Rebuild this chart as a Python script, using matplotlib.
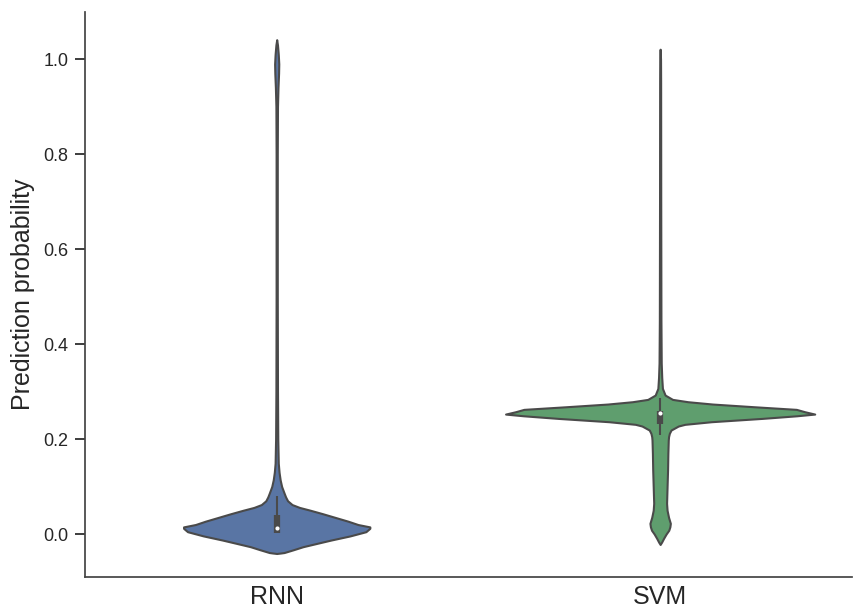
"""Violin plot - RNN vs SVM prediction probability"""
import colorsys
import matplotlib
matplotlib.use('Agg')
import matplotlib.pyplot as plt
import matplotlib.colors as mcolors

plt.rcParams['font.family'] = ['Liberation Sans', 'DejaVu Sans']

# Categories
models = ["RNN", "SVM"]

# Density outline: value -> half width (pixels at 387 px per category)
rnn_vals = [-0.041, -0.040, -0.039, -0.033, -0.0267, -0.020, -0.0126, -0.004, 0.0049,
            0.012, 0.015, 0.020, 0.027, 0.035, 0.043, 0.050, 0.056, 0.062, 0.070,
            0.078, 0.086, 0.100, 0.114, 0.130, 0.149, 0.200, 0.300, 0.500, 0.800,
            0.900, 0.940, 0.970, 0.990, 1.010, 1.030, 1.041]
rnn_width = [0, 4, 7.5, 17, 26.5, 40, 55, 74, 90,
             94, 94, 82, 72, 59, 46, 34, 23, 15.5, 11,
             9, 7.5, 5, 3.5, 2.4, 1.6, 1.1, 0.8, 0.6, 0.6,
             0.8, 1.3, 1.9, 2.1, 1.6, 0.8, 0]

svm_vals = [-0.022, -0.017, -0.009, 0.000, 0.008, 0.015, 0.0225, 0.035, 0.050, 0.0646,
            0.100, 0.135, 0.170, 0.198, 0.205, 0.212, 0.219, 0.2274, 0.231, 0.2365,
            0.2435, 0.249, 0.2526, 0.2575, 0.2625, 0.268, 0.2737, 0.2786, 0.2835,
            0.2926, 0.3067, 0.330, 0.360, 0.450, 0.700, 0.950, 1.000, 1.021]
svm_width = [0, 1.5, 3.5, 6, 8.7, 9.8, 10.3, 8.5, 7, 6.5,
             7, 7.5, 7.8, 8.2, 8.5, 9.3, 11, 18.3, 25, 51.7,
             103, 138, 156, 146, 137.5, 95, 53, 28, 12.5,
             5, 2.3, 1.6, 1.1, 0.8, 0.6, 0.5, 0.4, 0]

# Inner box: whisker low, q1, median, q3, whisker high
rnn_box = [0.0015, 0.0015, 0.012, 0.040, 0.080]
svm_box = [0.208, 0.231, 0.2554, 0.2596, 0.2857]

profiles = [(rnn_vals, rnn_width, rnn_box), (svm_vals, svm_width, svm_box)]
base_colors = ["#4C72B0", "#55A868"]
edge = "#4a4a4a"
px_per_cat = 387.0


def desaturate(color, prop):
    r, g, b = mcolors.to_rgb(color)
    h, l, s = colorsys.rgb_to_hls(r, g, b)
    return colorsys.hls_to_rgb(h, l, s * prop)


fig = plt.figure(figsize=(8.54, 6.08), dpi=100)
ax = fig.add_axes([0.0995, 0.051, 0.898, 0.929])

for i, (vals, width, box) in enumerate(profiles):
    hw = [w / px_per_cat for w in width]
    ax.fill_betweenx(vals, [i - w for w in hw], [i + w for w in hw],
                     facecolor=desaturate(base_colors[i], 0.75),
                     edgecolor=edge, linewidth=1.5, zorder=2)
    # whiskers, box, median
    ax.plot([i, i], [box[0], box[4]], color=edge, linewidth=1.5,
            solid_capstyle='butt', zorder=3)
    ax.plot([i, i], [box[1], box[3]], color=edge, linewidth=4.5,
            solid_capstyle='butt', zorder=3)
    ax.scatter([i], [box[2]], s=9, color='white', zorder=4, linewidths=0)

ax.set_xlim(-0.5, 1.5)
ax.set_ylim(-0.0905, 1.099)
ax.set_xticks(range(len(models)))
ax.set_xticklabels(models, fontsize=18)
ax.set_yticks([0.0, 0.2, 0.4, 0.6, 0.8, 1.0])
ax.set_yticklabels(['0.0', '0.2', '0.4', '0.6', '0.8', '1.0'], fontsize=13)
ax.tick_params(axis='x', length=0, pad=6, colors='#262626')
ax.tick_params(axis='y', length=7, width=1.25, pad=5, colors='#262626',
               direction='out')
ax.set_ylabel('Prediction probability', fontsize=18, color='#262626', labelpad=6)

for side in ['top', 'right']:
    ax.spines[side].set_visible(False)
for side in ['left', 'bottom']:
    ax.spines[side].set_color('#444444')
    ax.spines[side].set_linewidth(1.25)

fig.savefig('out.png', dpi=100)
